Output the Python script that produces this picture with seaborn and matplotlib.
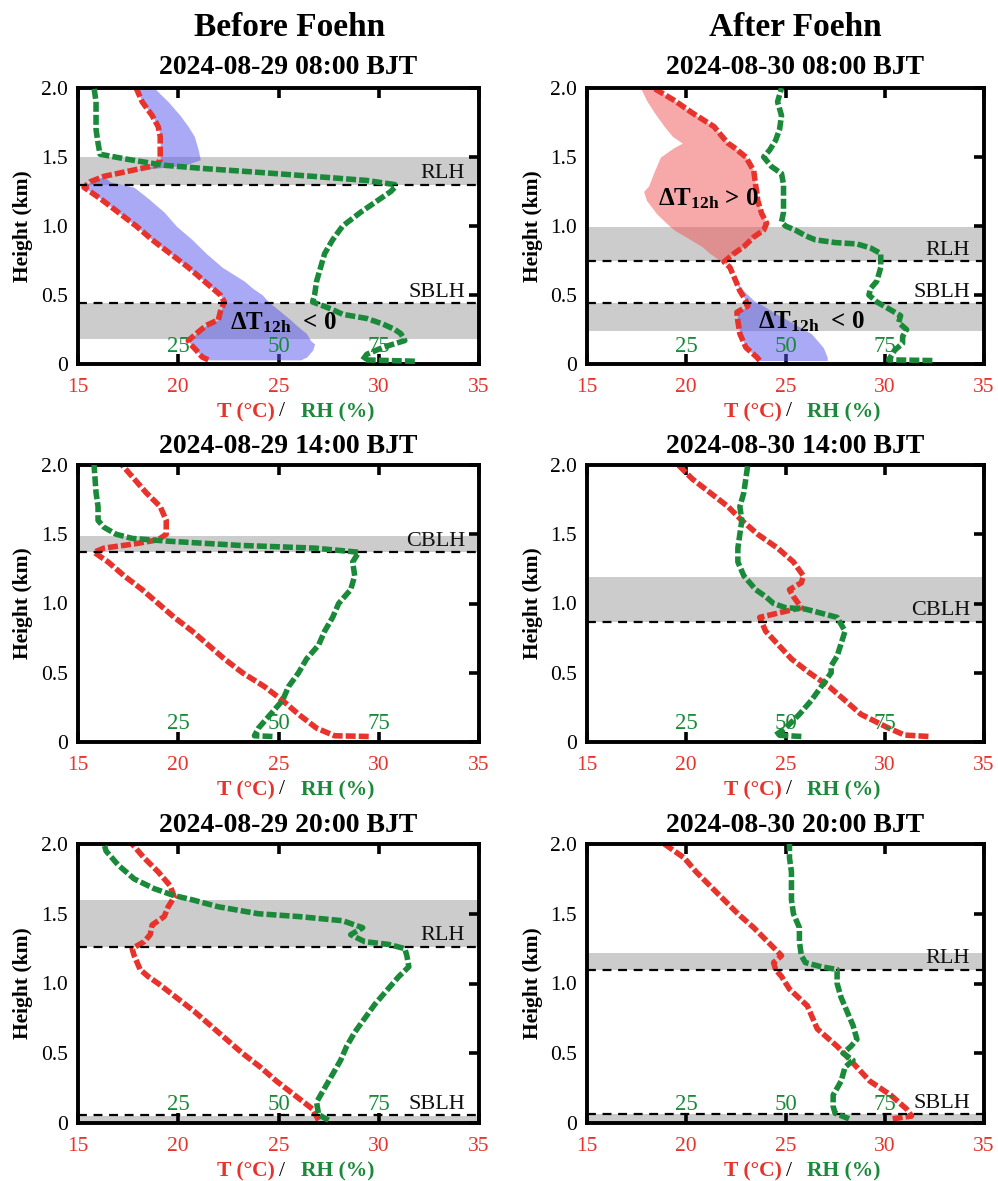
import numpy as np
import pandas as pd
import matplotlib
matplotlib.use("Agg")
import matplotlib.pyplot as plt
import seaborn as sns

# ---------------- data ----------------
col_titles = ["Before Foehn", "After Foehn"]
panel_titles = ["2024-08-29 08:00 BJT", "2024-08-30 08:00 BJT",
                "2024-08-29 14:00 BJT", "2024-08-30 14:00 BJT",
                "2024-08-29 20:00 BJT", "2024-08-30 20:00 BJT"]

# Panel 1 : 2024-08-29 08:00
p1_T_h = [0.03, 0.05, 0.10, 0.145, 0.17, 0.22, 0.28, 0.32, 0.38, 0.45, 0.50, 0.55, 0.60, 0.70, 0.80,
          0.90, 1.00, 1.10, 1.20, 1.28, 1.32, 1.36, 1.40, 1.44, 1.48, 1.55, 1.65, 1.72, 1.80, 1.90, 2.00]
p1_T = [21.5, 21.2, 20.9, 20.6, 20.5, 20.9, 21.4, 22.0, 22.1, 22.3, 22.1, 21.7, 21.3, 20.5, 19.6,
        18.7, 17.9, 17.0, 16.1, 15.3, 15.6, 16.3, 17.6, 18.9, 19.1, 19.1, 19.1, 19.0, 18.7, 18.2, 17.9]
p1_Tprev = [26.1, 26.4, 26.7, 26.8, 26.6, 26.4, 25.9, 25.6, 25.1, 24.5, 24.2, 23.7, 23.3, 22.2, 21.4,
            20.7, 19.9, 19.3, 18.5, 17.8, 16.6, 16.3, 17.6, 20.3, 21.1, 21.0, 20.8, 20.5, 20.1, 19.5, 18.8]
p1_RH_h = [0.02, 0.03, 0.07, 0.12, 0.17, 0.22, 0.25, 0.29, 0.33, 0.36, 0.40, 0.45, 0.50, 0.60, 0.70,
           0.80, 0.90, 1.00, 1.10, 1.20, 1.25, 1.28, 1.30, 1.33, 1.36, 1.39, 1.415, 1.44, 1.48, 1.52,
           1.60, 1.70, 1.80, 1.90, 2.00]
p1_RH = [84, 71, 72, 76, 81.5, 80.5, 79, 76, 72, 66, 63, 58.5, 59, 59.5, 60.5,
         61.5, 63.5, 66, 70.5, 75.5, 78, 79, 79, 72, 58.5, 44.5, 32, 21.5, 13, 5.5,
         5, 4.5, 4.5, 4.5, 4]

# Panel 2 : 2024-08-30 08:00
p2_T_h = [0.025, 0.05, 0.12, 0.22, 0.31, 0.375, 0.42, 0.46, 0.53, 0.60, 0.70, 0.74, 0.80, 0.85,
          0.92, 0.97, 1.02, 1.09, 1.185, 1.25, 1.29, 1.40, 1.50, 1.57, 1.60, 1.65, 1.72, 1.82, 1.91, 2.00]
p2_T = [23.7, 23.55, 23.0, 22.7, 22.6, 22.55, 23.1, 23.0, 22.7, 22.5, 22.2, 21.9, 22.4, 22.9,
        23.4, 23.9, 24.05, 23.8, 23.6, 23.55, 23.5, 23.4, 23.0, 22.4, 22.1, 21.8, 21.4, 20.3, 19.4, 18.35]
p2_Tprev = [27.1, 27.1, 26.9, 26.3, 25.2, 24.4, 23.9, 23.4, 22.9, 22.5, 22.2, 21.8, 21.2, 20.8,
            20.0, 19.4, 19.0, 18.5, 18.0, 17.85, 18.1, 18.4, 18.7, 19.4, 19.8, 19.3, 18.9, 18.4, 18.0, 17.7]
p2_RH_h = [0.025, 0.03, 0.10, 0.15, 0.20, 0.25, 0.30, 0.35, 0.40, 0.45, 0.50, 0.55, 0.60, 0.70,
           0.80, 0.84, 0.87, 0.88, 0.90, 0.93, 0.97, 1.00, 1.03, 1.10, 1.20, 1.30, 1.38, 1.43,
           1.50, 1.55, 1.62, 1.70, 1.80, 1.90, 2.00]
p2_RH = [87, 76, 77.5, 79.5, 79.5, 80.5, 78.5, 79, 76, 73, 71, 71.5, 73, 74,
         74, 71.5, 68, 62.5, 57.5, 55, 52.5, 50, 49, 49.5, 49.5, 49.5, 49, 46.5,
         44.5, 46, 47.5, 48.5, 49, 48, 49]

# Panel 3 : 2024-08-29 14:00
p3_T_h = [0.04, 0.045, 0.10, 0.20, 0.30, 0.40, 0.50, 0.60, 0.70, 0.80, 0.90, 1.00, 1.10, 1.20,
          1.30, 1.37, 1.40, 1.43, 1.46, 1.50, 1.60, 1.70, 1.80, 1.90, 2.00]
p3_T = [29.5, 27.8, 26.9, 26.0, 25.2, 24.3, 23.2, 22.3, 21.5, 20.7, 19.8, 19.0, 18.2, 17.3,
        16.5, 15.8, 16.3, 17.8, 19.0, 19.4, 19.4, 19.1, 18.4, 17.8, 17.2]
p3_RH_h = [0.04, 0.045, 0.10, 0.20, 0.30, 0.40, 0.50, 0.60, 0.70, 0.80, 0.90, 1.00, 1.10, 1.20,
           1.30, 1.37, 1.40, 1.42, 1.45, 1.47, 1.50, 1.55, 1.60, 1.70, 1.80, 2.00]
p3_RH = [48.5, 44, 45, 48, 51, 52.5, 55, 57, 60, 61.5, 63.5, 65, 68, 69,
         68.5, 70, 59, 40, 22.5, 13.5, 9.5, 6.5, 5, 5, 4.5, 4]

# Panel 4 : 2024-08-30 14:00
p4_T_h = [0.04, 0.05, 0.10, 0.15, 0.20, 0.30, 0.40, 0.50, 0.60, 0.80, 0.90, 0.97, 1.05, 1.10,
          1.15, 1.20, 1.30, 1.40, 1.50, 1.60, 1.70, 1.80, 1.90, 2.00]
p4_T = [32.2, 31.0, 30.2, 29.5, 28.8, 28.0, 27.2, 26.2, 25.3, 24.0, 23.7, 25.8, 25.4, 25.2,
        25.8, 25.9, 25.4, 24.6, 23.6, 22.8, 22.1, 21.2, 20.3, 19.6]
p4_RH_h = [0.04, 0.05, 0.10, 0.20, 0.30, 0.40, 0.50, 0.55, 0.62, 0.80, 0.90, 0.96, 0.97, 1.00,
           1.05, 1.10, 1.20, 1.30, 1.40, 1.50, 1.60, 1.70, 1.80, 1.90, 2.00]
p4_RH = [54, 47.5, 50, 53.5, 56.5, 59, 61.5, 61.5, 63, 65, 63, 55, 50, 47,
         45, 42.5, 39.5, 38, 38, 38.5, 39, 38.5, 39.5, 40, 40.5]

# Panel 5 : 2024-08-29 20:00
p5_T_h = [0.02, 0.10, 0.20, 0.30, 0.40, 0.50, 0.60, 0.70, 0.80, 0.90, 1.00, 1.05, 1.10, 1.20,
          1.25, 1.30, 1.35, 1.42, 1.48, 1.55, 1.62, 1.70, 1.80, 1.90, 2.00]
p5_T = [27.0, 26.7, 25.8, 24.9, 24.1, 23.2, 22.4, 21.6, 20.8, 19.9, 19.0, 18.5, 18.1, 17.8,
        17.7, 18.3, 18.6, 18.7, 19.3, 19.5, 19.8, 19.6, 19.0, 18.3, 17.7]
p5_RH_h = [0.02, 0.06, 0.15, 0.25, 0.35, 0.45, 0.55, 0.65, 0.75, 0.85, 0.95, 1.05, 1.12, 1.20,
           1.25, 1.28, 1.30, 1.35, 1.40, 1.45, 1.48, 1.50, 1.55, 1.60, 1.63, 1.68, 1.75, 1.85,
           1.95, 2.00]
p5_RH = [62.5, 60, 59.5, 61.5, 63.5, 65.5, 67, 69, 71.5, 74, 77, 80, 82.5, 82,
         81.5, 77.5, 71.5, 68, 71, 66, 55, 45, 35, 28.5, 24, 19, 14, 10, 7, 6.5]

# Panel 6 : 2024-08-30 20:00
p6_T_h = [0.03, 0.05, 0.10, 0.20, 0.30, 0.43, 0.55, 0.675, 0.84, 0.96, 1.05, 1.10, 1.15, 1.20,
          1.30, 1.40, 1.50, 1.60, 1.70, 1.80, 1.90, 2.00]
p6_T = [30.4, 31.35, 31.1, 30.3, 29.25, 28.4, 27.6, 26.6, 26.1, 25.2, 24.8, 24.5, 24.4, 24.8,
        24.1, 23.4, 22.6, 21.9, 21.2, 20.5, 19.9, 18.9]
p6_RH_h = [0.03, 0.07, 0.12, 0.20, 0.30, 0.40, 0.45, 0.50, 0.55, 0.60, 0.70, 0.80, 0.90, 1.00,
           1.10, 1.12, 1.15, 1.20, 1.30, 1.40, 1.50, 1.60, 1.70, 1.80, 1.90, 2.00]
p6_RH = [66, 62.5, 62, 62, 64, 65, 67, 64.5, 66.5, 68, 67, 65.5, 64, 63,
         63, 59, 55, 54, 53.5, 53.5, 52, 51.5, 51.5, 51.5, 51, 51]

# layer heights (km): (band bottom, band top, dashed-line height, label)
p1_layers = [(1.30, 1.50, 1.30, "RLH"), (0.18, 0.44, 0.44, "SBLH")]
p2_layers = [(0.745, 0.99, 0.745, "RLH"), (0.24, 0.44, 0.44, "SBLH")]
p3_layers = [(1.37, 1.49, 1.37, "CBLH")]
p4_layers = [(0.87, 1.19, 0.87, "CBLH")]
p5_layers = [(1.265, 1.60, 1.265, "RLH"), (0.0, 0.05, 0.055, "SBLH")]
p6_layers = [(1.10, 1.22, 1.10, "RLH"), (0.0, 0.065, 0.065, "SBLH")]

T_ticks = [15, 20, 25, 30, 35]
H_ticks = [0, 0.5, 1.0, 1.5, 2.0]
H_ticklabels = ["0", "0.5", "1.0", "1.5", "2.0"]
RH_ticks = [25, 50, 75]

# ---------------- style ----------------
sns.set_theme(style="white")
plt.rcParams["font.family"] = ["Liberation Serif", "DejaVu Serif"]
plt.rcParams["mathtext.fontset"] = "custom"
plt.rcParams["mathtext.rm"] = "Liberation Serif"
plt.rcParams["mathtext.bf"] = "Liberation Serif:bold"
plt.rcParams["mathtext.it"] = "Liberation Serif:italic"
plt.rcParams["text.color"] = "black"
plt.rcParams["axes.labelcolor"] = "black"
plt.rcParams["xtick.color"] = "black"
plt.rcParams["ytick.color"] = "black"

RED = "#e8332c"
GREEN = "#1a8a3a"
GRAY = "#cccccc"
BLUE_FILL = "#5555ee"
RED_FILL = "#f05555"
DASH = (0, (1.8, 0.55))

W, H = 998, 1181
fig = plt.figure(figsize=(W / 100, H / 100), dpi=100)

col_left = [78, 587]
col_w = [401, 397]
row_top = [88, 465, 844]
row_bot = [364, 742, 1123]
title_gap = [21, 18, 18]

panels = [
    (p1_T_h, p1_T, p1_RH_h, p1_RH, p1_layers, p1_Tprev),
    (p2_T_h, p2_T, p2_RH_h, p2_RH, p2_layers, p2_Tprev),
    (p3_T_h, p3_T, p3_RH_h, p3_RH, p3_layers, None),
    (p4_T_h, p4_T, p4_RH_h, p4_RH, p4_layers, None),
    (p5_T_h, p5_T, p5_RH_h, p5_RH, p5_layers, None),
    (p6_T_h, p6_T, p6_RH_h, p6_RH, p6_layers, None),
]

for i, (th, tv, rh_h, rh, layers, tprev) in enumerate(panels):
    r, c = divmod(i, 2)
    left = col_left[c] / W
    width = col_w[c] / W
    bottom = 1 - row_bot[r] / H
    hpx = row_bot[r] - row_top[r]
    height = hpx / H
    ax = fig.add_axes([left, bottom, width, height])
    ax.set_xlim(15, 35)
    ax.set_ylim(0, 2.0)

    # layer bands and top lines
    for b0, b1, hl, lab in layers:
        ax.axhspan(b0, b1, color=GRAY, zorder=0.5, lw=0)
        ax.axhline(hl, color="black", lw=1.6, ls=(0, (4, 3)), zorder=4)
        ax.annotate(lab, xy=(34.3, hl), xytext=(0, 1), textcoords="offset points",
                    ha="right", va="bottom", fontsize=16, color="#111111", zorder=5)

    # 12-h temperature change shading
    if tprev is not None:
        th_a = np.array(th); tv_a = np.array(tv); tp_a = np.array(tprev)
        ax.fill_betweenx(th_a, tv_a, tp_a, where=tp_a >= tv_a, color=BLUE_FILL,
                         alpha=0.5, lw=0, zorder=1, interpolate=True)
        ax.fill_betweenx(th_a, tv_a, tp_a, where=tp_a <= tv_a, color=RED_FILL,
                         alpha=0.5, lw=0, zorder=1, interpolate=True)

    dfT = pd.DataFrame({"T": tv, "h": th})
    sns.lineplot(data=dfT, x="T", y="h", sort=False, estimator=None, orient="y",
                 color=RED, lw=4.0, ls=DASH, ax=ax, zorder=3)

    # RH on its own x scale (0-100 %)
    ax2 = ax.twiny()
    ax2.set_xlim(0, 100)
    ax2.set_ylim(0, 2.0)
    dfR = pd.DataFrame({"RH": rh, "h": rh_h})
    sns.lineplot(data=dfR, x="RH", y="h", sort=False, estimator=None, orient="y",
                 color=GREEN, lw=4.0, ls=DASH, ax=ax2, zorder=3)
    ax2.axis("off")
    for v in RH_ticks:
        ax2.text(v, 0.065, str(v), transform=ax2.get_xaxis_transform(), ha="center",
                 va="center", color=GREEN, fontsize=16.5, zorder=6)

    # axes styling
    ax.set_xlabel("")
    ax.set_ylabel("")
    ax.set_xticks(T_ticks)
    ax.set_xticklabels([str(t) for t in T_ticks], color=RED, fontsize=15.5)
    ax.set_yticks(H_ticks)
    ax.set_yticklabels(H_ticklabels, fontsize=15.5, color="black")
    ax.tick_params(axis="both", direction="in", length=7, width=2.6,
                   top=True, right=True, color="black")
    ax.tick_params(axis="x", pad=10)
    ax.tick_params(axis="y", pad=7)
    for s in ax.spines.values():
        s.set_linewidth(2.8)
        s.set_color("black")
        s.set_visible(True)
        s.set_zorder(10)

    ax.text(0.5 + 10 / col_w[c], 1 + title_gap[r] / hpx, panel_titles[i],
            transform=ax.transAxes, ha="center", va="center",
            fontsize=20, fontweight="bold")
    ax.text(-0.137, 0.5, "Height (km)", transform=ax.transAxes, rotation=90,
            ha="center", va="center", fontsize=15.5, fontweight="bold")

    # composite x-label
    yl = -48 / hpx
    ax.text(0.49, yl, "T (°C)", transform=ax.transAxes, ha="right", va="center",
            color=RED, fontsize=15.5, fontweight="bold")
    ax.text(0.508, yl, "/", transform=ax.transAxes, ha="center", va="center",
            color="black", fontsize=15.5)
    ax.text(0.555, yl, "RH (%)", transform=ax.transAxes, ha="left", va="center",
            color=GREEN, fontsize=15.5, fontweight="bold")

    # ΔT annotations
    if i == 0:
        ax.text(22.6, 0.30, r"$\mathbf{\Delta T_{12h}}$" + "  < 0", ha="left", va="center",
                fontsize=18, fontweight="bold", zorder=6)
    if i == 1:
        ax.text(18.6, 1.20, r"$\mathbf{\Delta T_{12h}}$" + " > 0", ha="left", va="center",
                fontsize=18, fontweight="bold", zorder=6)
        ax.text(23.6, 0.31, r"$\mathbf{\Delta T_{12h}}$" + "  < 0", ha="left", va="center",
                fontsize=18, fontweight="bold", zorder=6)

fig.text(290 / W, 1 - 27 / H, col_titles[0], ha="center", va="center",
         fontsize=24, fontweight="bold")
fig.text(795 / W, 1 - 27 / H, col_titles[1], ha="center", va="center",
         fontsize=24, fontweight="bold")

fig.savefig("out.png", dpi=100)
